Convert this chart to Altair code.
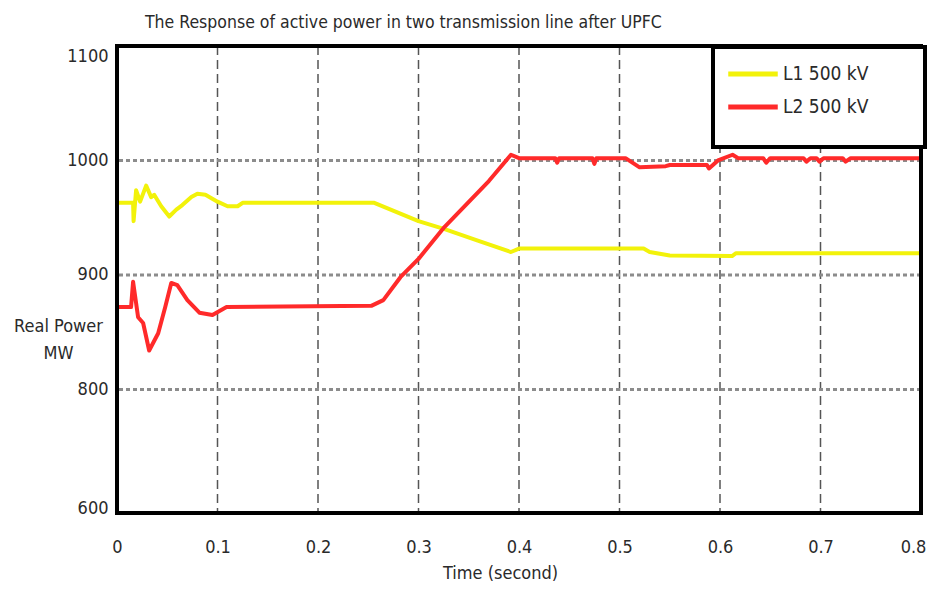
import altair as alt
import pandas as pd

# ---- data ----
L1_t = [0, 0.016, 0.0165, 0.019, 0.023, 0.029, 0.034, 0.037, 0.044, 0.052, 0.059, 0.065,
        0.074, 0.080, 0.088, 0.100, 0.110, 0.120, 0.125, 0.256, 0.300, 0.326, 0.359, 0.392,
        0.400, 0.524, 0.530, 0.550, 0.612, 0.616, 0.800]
L1_v = [963, 963, 947, 974, 964, 978, 968, 970, 960, 951, 957, 961,
        968, 971, 970, 964, 960, 960, 963, 963, 947, 940, 930, 920,
        923, 923, 920, 917, 916.5, 919, 919]

L2_t = [0, 0.014, 0.016, 0.021, 0.026, 0.032, 0.041, 0.048, 0.054, 0.060, 0.070, 0.082,
        0.095, 0.109, 0.253, 0.265, 0.282, 0.300, 0.326, 0.370, 0.392, 0.400, 0.436, 0.438,
        0.440, 0.473, 0.475, 0.477, 0.506, 0.520, 0.546, 0.550, 0.587, 0.589, 0.598, 0.6125,
        0.618, 0.643, 0.646, 0.650, 0.683, 0.686, 0.690, 0.696, 0.699, 0.703, 0.722, 0.725,
        0.730, 0.800]
L2_v = [872, 872, 894, 863, 858, 834, 849, 872, 893, 891, 878, 867,
        865, 872, 873, 878, 898, 914, 942, 982, 1005, 1002, 1002, 998,
        1002, 1002, 997, 1002, 1002, 994, 995, 996, 996, 993, 1000, 1005,
        1002, 1002, 998, 1002, 1002, 999, 1002, 1002, 999, 1002, 1002, 999,
        1002, 1002]

series_names = ["L1 500 kV", "L2 500 kV"]
series_colors = ["#f2f20a", "#ff2a2a"]

x_ticks = [0, 0.1, 0.2, 0.3, 0.4, 0.5, 0.6, 0.7, 0.8]
y_tick_pos = [1091, 1000, 900, 800, 696]
y_tick_labels = ["1100", "1000", "900", "800", "600"]
y_grid = [800, 900, 1000]
x_grid = [0.1, 0.2, 0.3, 0.4, 0.5, 0.6, 0.7]

X_DOMAIN = [0, 0.8]
Y_DOMAIN = [692, 1100]

W, H = 804, 467
FONT = "DejaVu Sans Condensed, Liberation Sans, sans-serif"
TXT = "#2a2a2a"

df = pd.concat([
    pd.DataFrame({"t": L1_t, "v": L1_v, "s": series_names[0], "o": range(len(L1_t))}),
    pd.DataFrame({"t": L2_t, "v": L2_v, "s": series_names[1], "o": range(len(L2_t))}),
])

label_map = "{" + ",".join(f"'{p}':'{l}'" for p, l in zip(y_tick_pos, y_tick_labels)) + "}"

xs = alt.Scale(domain=X_DOMAIN, nice=False, zero=False)
ys = alt.Scale(domain=Y_DOMAIN, nice=False, zero=False)

x_axis = alt.Axis(
    values=x_ticks, format="~g", title="Time (second)", grid=False, ticks=False,
    domain=False, labelPadding=25, labelFontSize=18, titleFontSize=18,
    titlePadding=8, labelFont=FONT, titleFont=FONT, labelColor=TXT,
    titleColor=TXT, titleFontWeight="normal", labelFlush=False,
    labelOffset={"condition": {"test": "datum.value >= 0.79", "value": -8}, "value": 0},
    titleX=383, titleAlign="center")
y_axis = alt.Axis(
    values=y_tick_pos, labelExpr=f"{label_map}[datum.value]", grid=False,
    ticks=False, domain=False, labelPadding=9, labelFontSize=18, labelFont=FONT,
    labelColor=TXT, title=["Real Power", "MW"], titleAngle=0, titleFont=FONT,
    titleFontSize=18, titleColor=TXT, titleFontWeight="normal",
    titleAlign="center", titleBaseline="middle", titleX=-59, titleY=280,
    titleLineHeight=27)

X = alt.X("t:Q", scale=xs, axis=x_axis)
Y = alt.Y("v:Q", scale=ys, axis=y_axis)

hgrid = alt.Chart(pd.DataFrame({"v": y_grid})).mark_rule(
    color="#8c8c8c", strokeWidth=3, strokeDash=[4, 3]
).encode(y=Y)

vgrid = alt.Chart(pd.DataFrame({"t": x_grid})).mark_rule(
    color="#555555", strokeWidth=1.5, strokeDash=[9, 5]
).encode(x=X)

# legend frame (decoration box behind the legend entries)
legend_box = alt.Chart(pd.DataFrame({"a": [0]})).mark_rect(
    fill="white", stroke="black", strokeWidth=4
).encode(x=alt.value(596), x2=alt.value(808), y=alt.value(1), y2=alt.value(101))

lines = alt.Chart(df).mark_line(strokeWidth=4, strokeJoin="round").encode(
    x=X, y=Y,
    color=alt.Color("s:N", scale=alt.Scale(domain=series_names, range=series_colors),
                    legend=alt.Legend(
                        title=None, orient="none", legendX=617, legendY=9,
                        symbolType="M-1.5,0H1.5", symbolSize=1089, symbolStrokeWidth=5,
                        labelFontSize=19, labelFont=FONT, labelColor=TXT,
                        labelOffset=11, rowPadding=4, padding=0, zindex=5)),
    order="o:Q",
)

frame = alt.Chart(pd.DataFrame({"a": [0]})).mark_rect(
    filled=False, stroke="black", strokeWidth=4
).encode(x=alt.value(0), x2=alt.value(W), y=alt.value(0), y2=alt.value(H))

chart = alt.layer(vgrid, hgrid, lines, frame, legend_box).properties(
    width=W, height=H,
    autosize=alt.AutoSizeParams(type="none"),
    padding={"left": 109, "top": 38, "right": 6, "bottom": 80},
    title=alt.TitleParams(
        "The Response of active power in two transmission line after UPFC",
        anchor="start", frame="group", dx=28, offset=13, fontSize=17.5, font=FONT,
        fontWeight="normal", color=TXT),
).configure_view(stroke=None)

chart.save("out.html", embed_options={"renderer": "svg", "actions": False})
